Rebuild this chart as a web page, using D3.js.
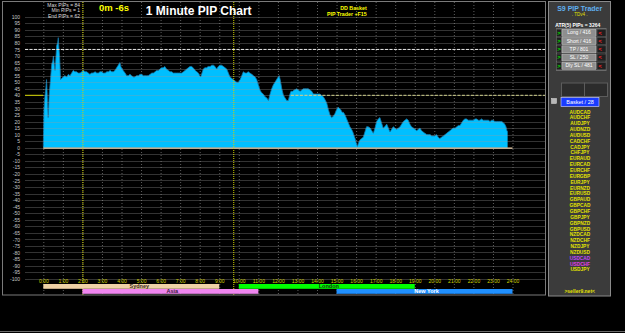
<!DOCTYPE html>
<html>
<head>
<meta charset="utf-8">
<script src="https://cdn.jsdelivr.net/npm/d3@7"></script>
<style>
  html, body { margin: 0; padding: 0; background: #000; }
  svg { display: block; font-family: "Liberation Sans", Arial, sans-serif; }
</style>
</head>
<body>
<svg id="chart" width="625" height="333"></svg>
<script>
// ---------------------------------------------------------------------------
// data: [minute of day, pips]
// ---------------------------------------------------------------------------
const pipPoints = [
  [0,1],[2,29],[5,39],[8,46],[10,52],[13,35],[15,23],[18,40],[21,49],[24,58],[26,64],[29,66],
  [31,70],[34,63],[36,59],[39,70],[41,78],[44,80],[46,84],[48,76],[50,70],[53,52],[57,53],[61,54],
  [66,55],[72,54],[77,56],[82,55],[87,57],[92,59],[97,58],[102,58],[107,57],[113,57],[118,58],[123,59],
  [128,58],[133,58],[138,57],[143,56],[148,57],[153,57],[159,58],[164,57],[169,57],[174,58],[179,58],
  [184,57],[190,57],[195,58],[200,58],[205,59],[210,58],[215,58],[220,59],[225,61],[230,63],[235,65],
  [238,62],[240,61],[245,59],[251,57],[256,55],[261,55],[266,56],[271,55],[276,54],[281,54],[286,55],
  [292,55],[297,56],[302,56],[307,55],[312,55],[317,55],[322,55],[328,56],[333,57],[338,57],[343,58],
  [348,59],[353,59],[358,60],[363,61],[368,61],[373,62],[378,60],[384,59],[389,58],[394,58],[399,57],
  [404,57],[409,57],[414,57],[420,57],[425,57],[430,58],[435,59],[440,60],[445,61],[450,62],[455,62],
  [460,61],[466,59],[471,58],[476,57],[480,55],[483,54],[487,57],[491,60],[496,61],[501,61],[506,62],
  [512,62],[517,63],[522,63],[527,62],[532,60],[537,62],[542,63],[547,63],[553,62],[558,61],[563,60],
  [568,57],[573,54],[578,53],[583,52],[588,51],[594,50],[599,50],[604,52],[609,55],[614,58],[619,57],
  [624,57],[629,58],[634,57],[640,56],[645,55],[650,54],[655,52],[660,48],[665,44],[670,42],[675,41],
  [680,39],[686,38],[691,36],[696,41],[701,45],[706,48],[711,50],[716,52],[721,54],[724,55],[727,52],
  [732,45],[737,40],[742,38],[747,36],[752,36],[757,41],[760,43],[765,43],[770,44],[778,45],[783,44],
  [788,43],[793,44],[798,45],[803,45],[808,45],[813,45],[819,44],[824,43],[829,41],[834,41],[839,41],
  [844,41],[849,41],[854,40],[859,39],[864,37],[870,34],[875,29],[880,25],[885,23],[890,24],[895,26],
  [900,29],[905,31],[909,30],[913,29],[917,27],[921,27],[926,25],[931,22],[936,19],[941,16],[946,14],
  [950,12],[954,9],[957,7],[960,4],[964,1],[968,4],[972,6],[977,7],[982,8],[987,12],[992,16],[997,16],
  [1003,15],[1008,13],[1013,11],[1018,15],[1023,20],[1028,22],[1033,23],[1038,19],[1043,15],[1048,16],
  [1054,18],[1059,15],[1064,12],[1069,14],[1074,16],[1079,15],[1084,14],[1090,15],[1095,16],[1100,18],
  [1105,20],[1110,21],[1115,22],[1120,21],[1125,18],[1130,16],[1136,15],[1141,14],[1146,13],[1151,14],
  [1156,15],[1161,13],[1166,12],[1171,11],[1177,10],[1182,10],[1187,10],[1192,9],[1197,9],[1202,9],
  [1207,10],[1212,8],[1217,7],[1222,8],[1228,9],[1233,10],[1238,11],[1243,12],[1248,13],[1253,14],
  [1258,15],[1264,15],[1269,16],[1274,17],[1279,17],[1284,19],[1289,21],[1294,22],[1299,22],[1304,21],
  [1309,21],[1315,21],[1320,21],[1325,22],[1330,22],[1335,21],[1340,21],[1345,22],[1350,21],[1356,21],
  [1361,21],[1366,21],[1371,20],[1376,21],[1381,21],[1386,20],[1391,20],[1396,20],[1402,20],[1407,20],
  [1412,19],[1416,18],[1420,16],[1423,13],[1425,12]
];

const yTicks = [100,95,90,85,80,75,70,65,60,55,50,45,40,35,30,25,20,15,10,5,0,
  -5,-10,-15,-20,-25,-30,-35,-40,-45,-50,-55,-60,-65,-70,-75,-80,-85,-90,-95,-100];

const hourTicks = [0,1,2,3,4,5,6,7,8,9,10,11,12,13,14,15,16,17,18,19,20,21,22,23,24];
const hourLabels = ['0:00','1:00','2:00','3:00','4:00','5:00','6:00','7:00','8:00','9:00','10:00',
  '11:00','12:00','13:00','14:00','15:00','16:00','17:00','18:00','19:00','20:00','21:00','22:00',
  '23:00','24:00'];

const markerMinutes = [120, 583];      // yellow time markers
const levelTop = 75;                   // white dashed level
const levelMid = 40;                   // yellow level

const sessionNames = ['Sydney', 'Asia', 'London', 'New York'];
const sessionStart = [0, 2, 10, 15];   // hours
const sessionEnd   = [9, 11, 19, 24];

const statLines = ['Max PIPs = 84', 'Min PIPs = 1', 'End PIPs = 62'];
const timerText = '0m -6s';
const titleText = '1 Minute PIP Chart';
const basketLines = ['DD Basket', 'PIP Trader +F15'];

const buttonLabels = ['Long / 416', 'Short / 416', 'TP / 801', 'SL / 250', 'Dly SL / 481'];
const pairNames = ['AUDCAD','AUDCHF','AUDJPY','AUDNZD','AUDUSD','CADCHF','CADJPY','CHFJPY',
  'EURAUD','EURCAD','EURCHF','EURGBP','EURJPY','EURNZD','EURUSD','GBPAUD','GBPCAD','GBPCHF',
  'GBPJPY','GBPNZD','GBPUSD','NZDCAD','NZDCHF','NZDJPY','NZDUSD','USDCAD','USDCHF','USDJPY'];
const highlightedPairs = ['USDCAD', 'USDCHF'];

// ---------------------------------------------------------------------------
const svg = d3.select('#chart');
svg.append('rect').attr('width', 625).attr('height', 333).attr('fill', '#000');

const x = d3.scaleLinear().domain([0, 1440]).range([43.3, 512.5]);
const y = d3.scaleLinear().domain([-100, 100]).range([278.7, 16.7]);

const gridLeft = 25, gridRight = 545, frameTop = 2, frameBottom = 295;

// vertical hour grid (dotted)
svg.append('g')
  .selectAll('line')
  .data(hourTicks)
  .join('line')
  .attr('x1', d => x(d * 60) + 0.5).attr('x2', d => x(d * 60) + 0.5)
  .attr('y1', frameTop).attr('y2', frameBottom)
  .attr('stroke', '#5e5e5e')
  .attr('stroke-width', 1)
  .attr('stroke-dasharray', '1,2');

// area
const area = d3.area()
  .x(d => x(d[0]))
  .y0(y(0))
  .y1(d => y(d[1]));
const line = d3.line()
  .x(d => x(d[0]))
  .y(d => y(d[1]));

svg.append('path')
  .datum(pipPoints)
  .attr('d', area)
  .attr('fill', '#00bfff');

svg.append('path')
  .datum(pipPoints)
  .attr('d', line)
  .attr('fill', 'none')
  .attr('stroke', '#1577aa')
  .attr('stroke-width', 0.8);

// horizontal grid over the area
svg.append('g')
  .selectAll('line')
  .data(yTicks)
  .join('line')
  .attr('x1', gridLeft).attr('x2', gridRight)
  .attr('y1', d => Math.round(y(d)) + 0.5).attr('y2', d => Math.round(y(d)) + 0.5)
  .attr('stroke', '#9a9a9a')
  .attr('stroke-opacity', 0.33);

// zero line
svg.append('line')
  .attr('x1', x(0)).attr('x2', x(1440))
  .attr('y1', y(0) + 0.5).attr('y2', y(0) + 0.5)
  .attr('stroke', '#f3d6b0')
  .attr('stroke-width', 1.2);

// level lines
svg.append('line')
  .attr('x1', gridLeft).attr('x2', gridRight)
  .attr('y1', y(levelTop)).attr('y2', y(levelTop))
  .attr('stroke', '#e6e6e6')
  .attr('stroke-width', 1)
  .attr('stroke-dasharray', '3,1.5');

svg.append('line')
  .attr('x1', gridLeft).attr('x2', x(0))
  .attr('y1', y(levelMid)).attr('y2', y(levelMid))
  .attr('stroke', '#d8d800')
  .attr('stroke-width', 1);

svg.append('line')
  .attr('x1', x(760)).attr('x2', gridRight)
  .attr('y1', y(levelMid)).attr('y2', y(levelMid))
  .attr('stroke', '#d2d28c')
  .attr('stroke-width', 1)
  .attr('stroke-dasharray', '3,1.5');

// yellow time markers
svg.append('g')
  .selectAll('line')
  .data(markerMinutes)
  .join('line')
  .attr('x1', d => x(d) + 0.5).attr('x2', d => x(d) + 0.5)
  .attr('y1', frameTop).attr('y2', frameBottom)
  .attr('stroke', '#d0d000')
  .attr('stroke-dasharray', '1,1');

// y axis labels
const yAxis = d3.axisLeft(y)
  .tickValues(yTicks)
  .tickFormat(d => String(d))
  .tickSize(0)
  .tickPadding(0);
const yg = svg.append('g').attr('transform', 'translate(20,0)').call(yAxis);
yg.select('.domain').remove();
yg.selectAll('text')
  .attr('fill', '#c8c8c8')
  .attr('font-size', '5px')
  .attr('font-family', '"Liberation Sans", Arial, sans-serif');

// x axis labels
const xAxis = d3.axisBottom(x)
  .tickValues(hourTicks.map(h => h * 60))
  .tickFormat((d, i) => hourLabels[i])
  .tickSize(0)
  .tickPadding(0);
const xg = svg.append('g').attr('transform', 'translate(0,279)').call(xAxis);
xg.select('.domain').remove();
xg.selectAll('text')
  .attr('fill', '#d2d200')
  .attr('font-size', '5px')
  .attr('font-family', '"Liberation Sans", Arial, sans-serif');

// session bars
const sessionColors = { 'Sydney': '#efd2a6', 'Asia': '#ef86ef', 'London': '#00ff00', 'New York': '#2090ff' };
const sessionText = { 'Sydney': '#3a2a1a', 'Asia': '#3a1a3a', 'London': '#103010', 'New York': '#ffffff' };
const sess = svg.append('g')
  .selectAll('g')
  .data(sessionNames)
  .join('g');
sess.append('rect')
  .attr('x', (d, i) => x(sessionStart[i] * 60))
  .attr('y', (d, i) => i % 2 === 0 ? 284 : 289)
  .attr('width', (d, i) => x(sessionEnd[i] * 60) - x(sessionStart[i] * 60))
  .attr('height', 4.8)
  .attr('fill', d => sessionColors[d]);
sess.append('text')
  .attr('x', (d, i) => x((sessionStart[i] + sessionEnd[i]) * 30) + (i === 0 ? 8 : 2))
  .attr('y', (d, i) => (i % 2 === 0 ? 284 : 289) + 4.2)
  .attr('text-anchor', 'middle')
  .attr('font-size', '5.5px')
  .attr('font-weight', 'bold')
  .attr('fill', d => sessionText[d])
  .text(d => d);

// frame
svg.append('rect')
  .attr('x', 2.5).attr('y', 1.5)
  .attr('width', 543).attr('height', 293.5)
  .attr('fill', 'none')
  .attr('stroke', '#7a7a7a');
svg.append('line')
  .attr('x1', 0).attr('x2', 625).attr('y1', 331.5).attr('y2', 331.5)
  .attr('stroke', '#6a6a6a');

// header texts
svg.append('g')
  .selectAll('text')
  .data(statLines)
  .join('text')
  .attr('x', 80).attr('y', (d, i) => 6.5 + i * 5.5)
  .attr('text-anchor', 'end')
  .attr('font-size', '5px')
  .attr('fill', '#dddddd')
  .text(d => d);

svg.append('text')
  .attr('x', 99).attr('y', 11)
  .attr('font-size', '9.5px').attr('font-weight', 'bold')
  .attr('fill', '#ffff00')
  .text(timerText);

svg.append('text')
  .attr('x', 198.7).attr('y', 15)
  .attr('text-anchor', 'middle')
  .attr('font-size', '12px').attr('font-weight', 'bold')
  .attr('fill', '#ffffff')
  .text(titleText);

svg.append('g')
  .selectAll('text')
  .data(basketLines)
  .join('text')
  .attr('x', 366.7).attr('y', (d, i) => 9.5 + i * 6.5)
  .attr('text-anchor', 'end')
  .attr('font-size', '5.3px').attr('font-weight', 'bold')
  .attr('fill', '#ffff00')
  .text(d => d);

// ---------------------------------------------------------------------------
// right panel
// ---------------------------------------------------------------------------
const panel = svg.append('g');
const pcx = 579.7;
panel.append('rect')
  .attr('x', 548.5).attr('y', 1.5).attr('width', 62).attr('height', 294.5)
  .attr('fill', '#3b3b3b').attr('stroke', '#8a8a8a');

panel.append('text')
  .attr('x', pcx).attr('y', 10.5).attr('text-anchor', 'middle')
  .attr('font-size', '7px').attr('font-weight', 'bold').attr('fill', '#5fb0f0')
  .text('S9 PIP Trader');
panel.append('text')
  .attr('x', pcx).attr('y', 15.5).attr('text-anchor', 'middle')
  .attr('font-size', '4.5px').attr('fill', '#e0e000')
  .text('. TDv4 .');
panel.append('text')
  .attr('x', pcx - 2).attr('y', 27).attr('text-anchor', 'middle')
  .attr('font-size', '5px').attr('font-weight', 'bold').attr('fill', '#ffffff')
  .text('ATR(5) PIPs = 3264');

panel.append('rect')
  .attr('x', 556.5).attr('y', 28.5).attr('width', 49.5).attr('height', 42)
  .attr('fill', '#262626').attr('stroke', '#6a6a6a');

const rows = panel.append('g')
  .selectAll('g')
  .data(buttonLabels)
  .join('g')
  .attr('transform', (d, i) => `translate(0,${29.3 + i * 8.25})`);
rows.append('rect')
  .attr('x', 556.5).attr('y', 0).attr('width', 5).attr('height', 7)
  .attr('fill', '#1e1e1e').attr('stroke', '#5a5a5a').attr('stroke-width', 0.6);
rows.append('rect')
  .attr('x', 597).attr('y', 0).attr('width', 9).attr('height', 7)
  .attr('fill', '#1e1e1e').attr('stroke', '#5a5a5a').attr('stroke-width', 0.6);
rows.append('text')
  .attr('x', 559).attr('y', 5.3).attr('text-anchor', 'middle')
  .attr('font-size', '6px').attr('font-weight', 'bold').attr('fill', '#00e000')
  .text('>');
rows.append('text')
  .attr('x', 600).attr('y', 5.3).attr('text-anchor', 'middle')
  .attr('font-size', '6px').attr('font-weight', 'bold').attr('fill', '#ff2020')
  .text('<');
rows.append('rect')
  .attr('x', 562).attr('y', 0).attr('width', 34).attr('height', 7)
  .attr('fill', '#8e8e8e').attr('stroke', '#c4c4c4').attr('stroke-width', 0.6);
rows.append('text')
  .attr('x', 579).attr('y', 5.2).attr('text-anchor', 'middle')
  .attr('font-size', '5px').attr('fill', '#ffffff')
  .text(d => d);

panel.append('rect')
  .attr('x', 561.5).attr('y', 83).attr('width', 23).attr('height', 13.5)
  .attr('fill', '#2c2c2c').attr('stroke', '#5c5c5c');
panel.append('rect')
  .attr('x', 584.5).attr('y', 83).attr('width', 23).attr('height', 13.5)
  .attr('fill', '#2c2c2c').attr('stroke', '#5c5c5c');

panel.append('rect')
  .attr('x', 551.5).attr('y', 98.5).attr('width', 5).attr('height', 5)
  .attr('fill', '#b8b8b8').attr('stroke', '#e0e0e0').attr('stroke-width', 0.5);
panel.append('rect')
  .attr('x', 561).attr('y', 97.5).attr('width', 38).attr('height', 9)
  .attr('fill', '#1a3cff').attr('stroke', '#dcdcff').attr('stroke-width', 0.6);
panel.append('text')
  .attr('x', 580).attr('y', 104).attr('text-anchor', 'middle')
  .attr('font-size', '5.5px').attr('fill', '#ffffff')
  .text('Basket / 28');

panel.append('g')
  .selectAll('text')
  .data(pairNames)
  .join('text')
  .attr('x', 580).attr('y', (d, i) => 113.5 + i * 5.85)
  .attr('text-anchor', 'middle')
  .attr('font-size', '4.8px').attr('font-weight', 'bold')
  .attr('fill', d => highlightedPairs.includes(d) ? (d === 'USDCAD' ? '#c048ff' : '#e040e8') : '#e4e400')
  .text(d => d);

panel.append('text')
  .attr('x', pcx).attr('y', 292.5).attr('text-anchor', 'middle')
  .attr('font-size', '5px').attr('font-weight', 'bold').attr('fill', '#e4e400')
  .text('>seller9.net<');
</script>
</body>
</html>
